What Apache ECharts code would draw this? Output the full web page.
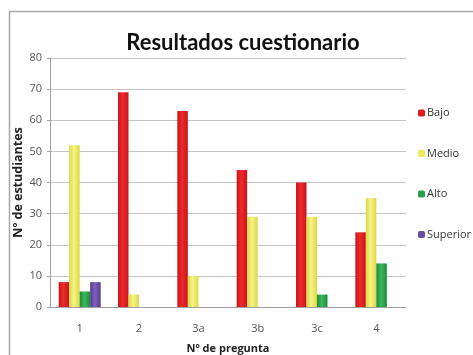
<!DOCTYPE html>
<html>
<head>
<meta charset="utf-8">
<script src="https://cdn.jsdelivr.net/npm/echarts@6/dist/echarts.min.js"></script>
<style>
  html, body { margin: 0; padding: 0; background: #fff; }
  #chart { width: 473px; height: 355px; }
</style>
</head>
<body>
<div id="chart"></div>
<script>
// Questions and number of students per result level
const categories = ['1', '2', '3a', '3b', '3c', '4'];
const bajo = [8, 69, 63, 44, 40, 24];
const medio = [52, 4, 10, 29, 29, 35];
const alto = [5, 0, 0, 0, 4, 14];
const superior = [8, 0, 0, 0, 0, 0];
const yTicks = { min: 0, max: 80, interval: 10 };

// Horizontal shading so each bar looks slightly rounded
function shade(dark, light) {
  return {
    type: 'linear', x: 0, y: 0, x2: 1, y2: 0,
    colorStops: [
      { offset: 0, color: dark },
      { offset: 0.45, color: light },
      { offset: 1, color: dark }
    ]
  };
}

const font = 'Open Sans';
const chart = echarts.init(document.getElementById('chart'), null, { renderer: 'canvas' });

function bar(name, data, dark, light) {
  return {
    name: name,
    type: 'bar',
    data: data,
    barWidth: 10.5,
    barGap: '0%',
    itemStyle: { color: shade(dark, light) },
    emphasis: { disabled: true }
  };
}

chart.setOption({
  animation: false,
  color: ['#e3191c', '#eeea5e', '#26a04a', '#6b4ea5'],
  graphic: [
    {
      type: 'rect',
      shape: { x: 9.5, y: 11.5, width: 480, height: 360 },
      style: { fill: 'none', stroke: '#a8a8a8', lineWidth: 1.5 },
      silent: true
    },
    {
      type: 'text',
      x: 243, y: 43,
      style: {
        text: 'Resultados cuestionario',
        font: 'bold 22px Lato',
        fill: '#111',
        textAlign: 'center',
        textVerticalAlign: 'middle'
      }
    }
  ],
  grid: { left: 50, right: 67, top: 58, bottom: 48, containLabel: false, outerBoundsMode: 'none' },
  legend: {
    orient: 'vertical',
    left: 418,
    top: 107,
    padding: 0,
    itemWidth: 7,
    itemHeight: 7,
    itemGap: 28.5,
    selectedMode: false,
    textStyle: { fontFamily: font, fontSize: 11, color: '#333', padding: [0, 0, 0, -3], lineHeight: 12 },
    data: [
      { name: 'Bajo', itemStyle: { color: '#e3191c' } },
      { name: 'Medio', itemStyle: { color: '#eeea5e' } },
      { name: 'Alto', itemStyle: { color: '#26a04a' } },
      { name: 'Superior', itemStyle: { color: '#6b4ea5' } }
    ]
  },
  xAxis: {
    type: 'category',
    data: categories,
    name: 'Nº de pregunta',
    nameLocation: 'middle',
    nameGap: 36,
    nameMoveOverlap: false,
    nameTextStyle: { fontFamily: font, fontSize: 11, fontWeight: 'bold', color: '#222' },
    axisLine: { lineStyle: { color: '#a0a0a0', width: 1 } },
    axisTick: { show: false },
    axisLabel: { fontFamily: font, fontSize: 11, color: '#555', margin: 16 }
  },
  yAxis: {
    type: 'value',
    min: yTicks.min,
    max: yTicks.max,
    interval: yTicks.interval,
    name: 'Nº de estudiantes',
    nameLocation: 'middle',
    nameGap: 25,
    nameMoveOverlap: false,
    nameTextStyle: { fontFamily: font, fontSize: 12.5, fontWeight: 'bold', color: '#222' },
    axisLine: { show: true, lineStyle: { color: '#a0a0a0', width: 1 } },
    axisTick: { show: true, length: 3, lineStyle: { color: '#a0a0a0' } },
    axisLabel: { fontFamily: font, fontSize: 11, color: '#555', margin: 8 },
    splitLine: { lineStyle: { color: '#c4c4c4', width: 1 } }
  },
  series: [
    bar('Bajo', bajo, '#c9151a', '#ee2a2a'),
    bar('Medio', medio, '#dcd840', '#f6f48a'),
    bar('Alto', alto, '#1c8a3c', '#3cb95c'),
    bar('Superior', superior, '#57398f', '#7e62b8')
  ]
});
</script>
</body>
</html>
